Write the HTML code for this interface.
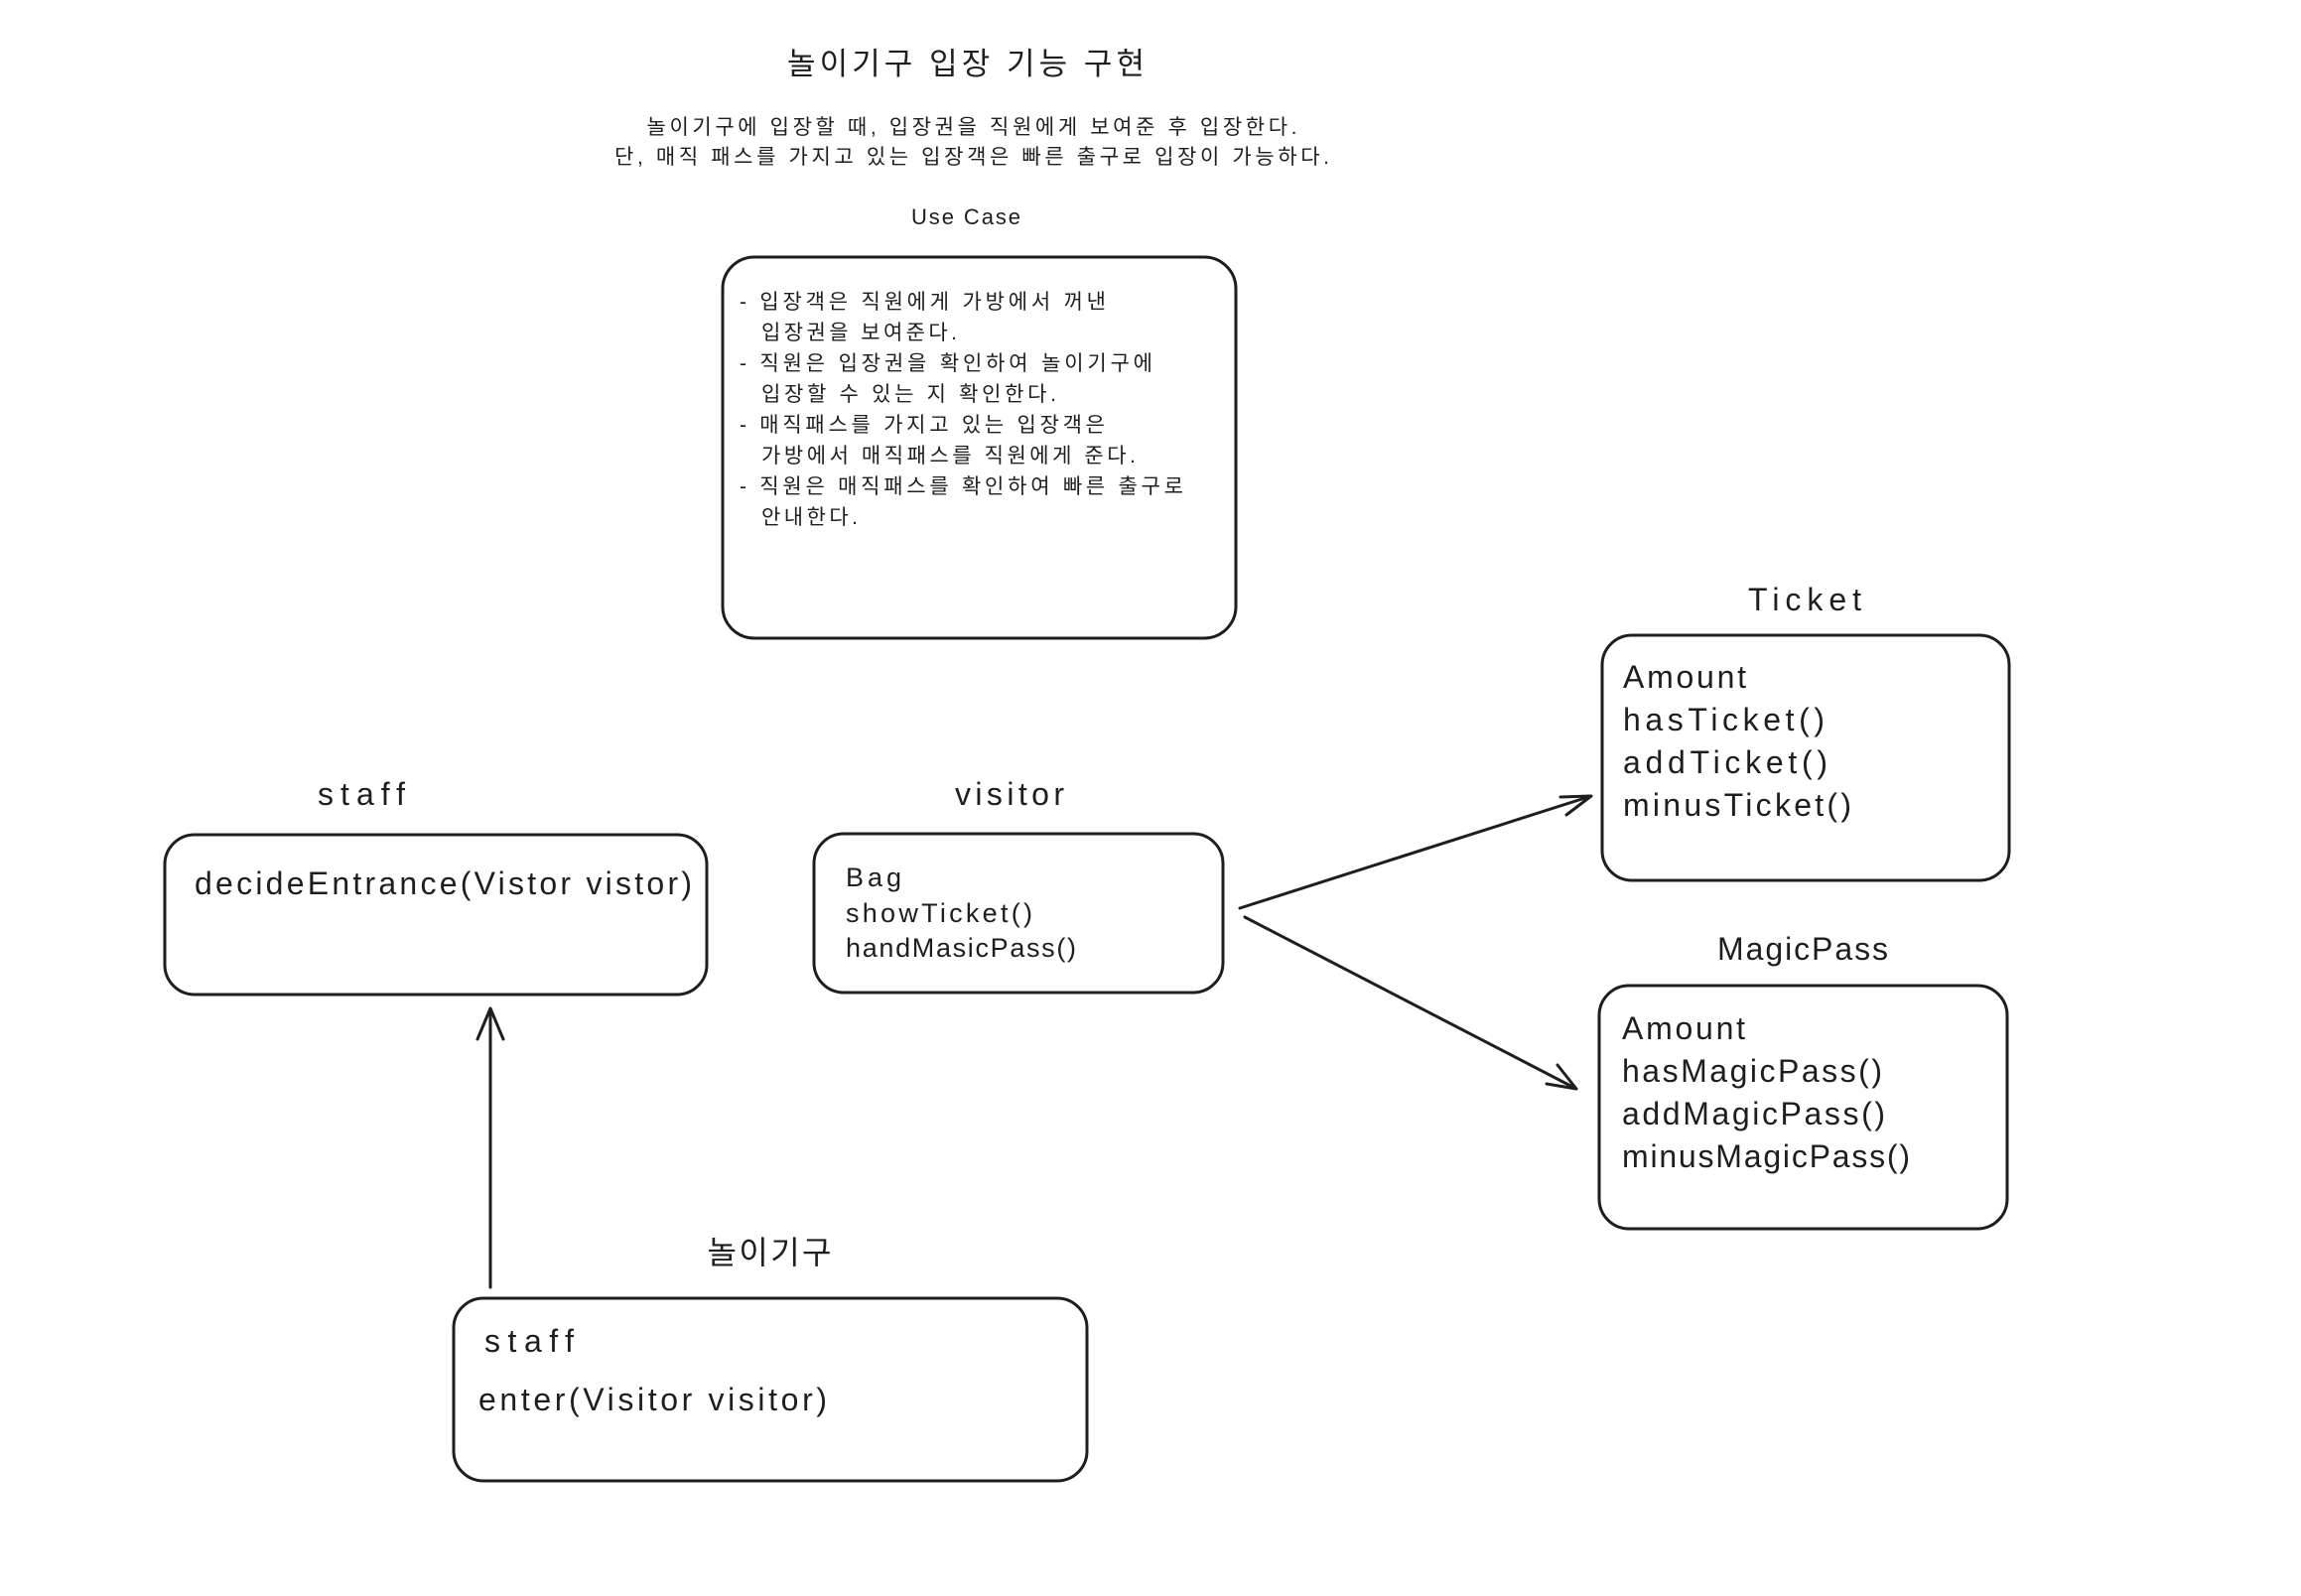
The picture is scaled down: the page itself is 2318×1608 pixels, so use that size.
<!DOCTYPE html>
<html><head><meta charset="utf-8"><style>
html,body{margin:0;padding:0;background:#fff;}
svg{display:block}
text{fill:#1e1e1e;font-family:"Liberation Sans","Noto Sans CJK KR",sans-serif;}
</style></head><body>
<svg width="2318" height="1608" viewBox="0 0 2318 1608" xmlns="http://www.w3.org/2000/svg">
<g transform="translate(0,-3)">
<g fill="none" stroke="#1e1e1e" stroke-width="3" stroke-linecap="round" stroke-linejoin="round">
<rect x="728" y="262" width="517" height="384" rx="32"/>
<rect x="166" y="844" width="546" height="161" rx="30"/>
<rect x="820" y="843" width="412" height="160" rx="30"/>
<rect x="1614" y="643" width="410" height="247" rx="30"/>
<rect x="1611" y="996" width="411" height="245" rx="30"/>
<rect x="457" y="1311" width="638" height="184" rx="30"/>
<path d="M494 1300 L494 1019 M481 1050 L494 1019 L507 1050"/>
<path d="M1249 918 L1603 805 M1572 806 L1603 805 L1578 824"/>
<path d="M1254 927 L1588 1100 M1569 1076 L1588 1100 L1558 1095"/>
</g>
<text x="973" y="78" font-size="31" text-anchor="middle" textLength="360">놀이기구 입장 기능 구현</text>
<text x="979" y="138" font-size="21" text-anchor="middle" textLength="655">놀이기구에 입장할 때, 입장권을 직원에게 보여준 후 입장한다.</text>
<text x="979" y="168" font-size="21" text-anchor="middle" textLength="720">단, 매직 패스를 가지고 있는 입장객은 빠른 출구로 입장이 가능하다.</text>
<text x="973" y="229" font-size="22" text-anchor="middle" textLength="110">Use Case</text>
<g font-size="21">
<text x="745" y="314" textLength="369">- 입장객은 직원에게 가방에서 꺼낸</text>
<text x="767" y="345" textLength="197">입장권을 보여준다.</text>
<text x="745" y="376" textLength="416">- 직원은 입장권을 확인하여 놀이기구에</text>
<text x="767" y="407" textLength="297">입장할 수 있는 지 확인한다.</text>
<text x="745" y="438" textLength="368">- 매직패스를 가지고 있는 입장객은</text>
<text x="767" y="469" textLength="377">가방에서 매직패스를 직원에게 준다.</text>
<text x="745" y="500" textLength="447">- 직원은 매직패스를 확인하여 빠른 출구로</text>
<text x="767" y="531" textLength="97">안내한다.</text>
</g>
<text x="364" y="814" font-size="32" text-anchor="middle" textLength="88">staff</text>
<text x="196" y="904" font-size="32" textLength="501">decideEntrance(Vistor vistor)</text>
<text x="1017" y="814" font-size="32" text-anchor="middle" textLength="110">visitor</text>
<text x="852" y="896" font-size="27" textLength="56">Bag</text>
<text x="852" y="932" font-size="27" textLength="188">showTicket()</text>
<text x="852" y="967" font-size="27" textLength="232">handMasicPass()</text>
<text x="1818" y="618" font-size="32" text-anchor="middle" textLength="114">Ticket</text>
<g font-size="32">
<text x="1635" y="696" textLength="124">Amount</text>
<text x="1635" y="739" textLength="203">hasTicket()</text>
<text x="1635" y="782" textLength="206">addTicket()</text>
<text x="1635" y="825" textLength="230">minusTicket()</text>
</g>
<text x="1816" y="970" font-size="32" text-anchor="middle" textLength="172">MagicPass</text>
<g font-size="32">
<text x="1634" y="1050" textLength="124">Amount</text>
<text x="1634" y="1093" textLength="262">hasMagicPass()</text>
<text x="1634" y="1136" textLength="265">addMagicPass()</text>
<text x="1634" y="1179" textLength="290">minusMagicPass()</text>
</g>
<text x="775" y="1276" font-size="32" text-anchor="middle" textLength="125">놀이기구</text>
<text x="488" y="1365" font-size="32" textLength="90">staff</text>
<text x="482" y="1424" font-size="32" textLength="351">enter(Visitor visitor)</text>
</g>
</svg>
</body></html>
